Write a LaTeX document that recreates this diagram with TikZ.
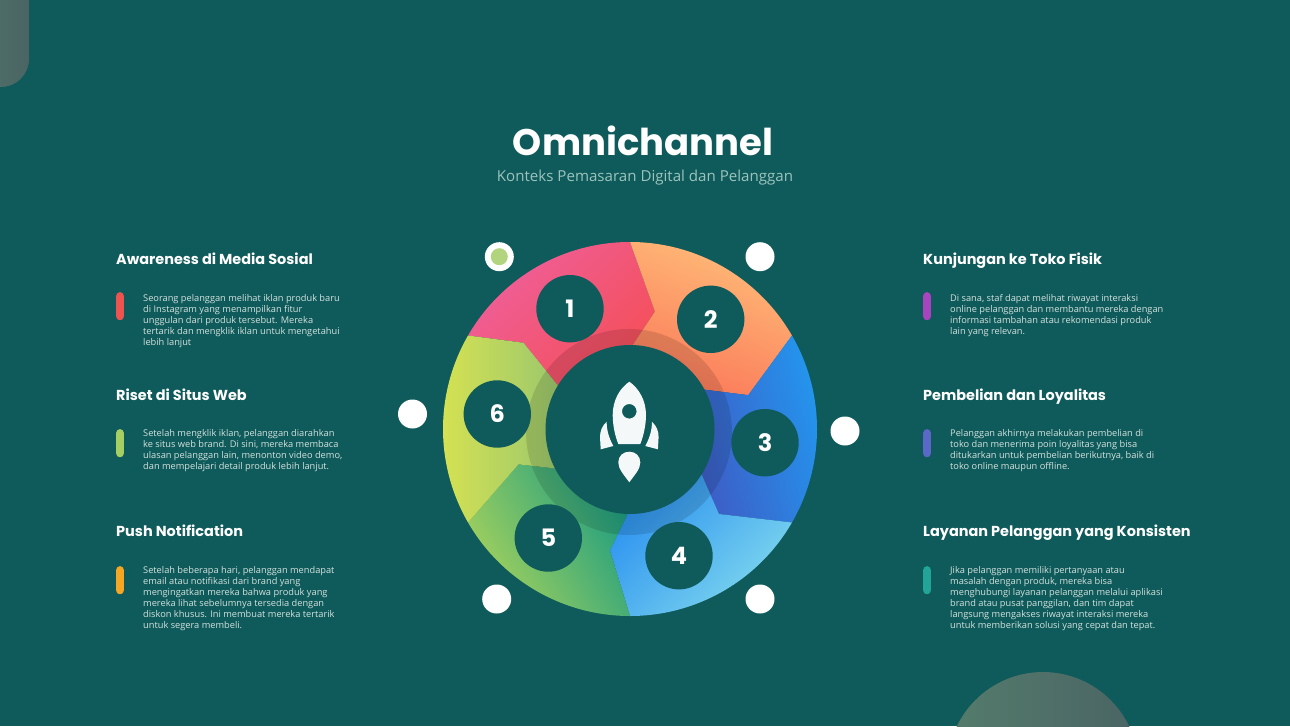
\documentclass[tikz,border=0pt]{standalone}
\usepackage{fontspec}
\usepackage{tikz}
\usetikzlibrary{positioning}
\setmainfont{Open Sans}
\newfontfamily\headfont{Poppins}
\newfontfamily\numfont{Poppins}
\definecolor{bgteal}{HTML}{0F5A5A}
\definecolor{bodygrey}{HTML}{D2E2DE}
\definecolor{subgrey}{HTML}{9CC4BE}
\definecolor{cornerleft}{HTML}{547C6C}
\definecolor{cornerright}{HTML}{4A6464}
\definecolor{segpink}{HTML}{EE5F9B}
\definecolor{segred}{HTML}{F54F58}
\definecolor{segpeach}{HTML}{FFBC78}
\definecolor{segcoral}{HTML}{FB7A5A}
\definecolor{segblue}{HTML}{2298F0}
\definecolor{segindigo}{HTML}{3D5EC6}
\definecolor{segsky}{HTML}{7FD8EE}
\definecolor{segazure}{HTML}{2A90F0}
\definecolor{segleaf}{HTML}{A6D25C}
\definecolor{segsea}{HTML}{1F9E80}
\definecolor{seglime}{HTML}{D8E350}
\definecolor{segmoss}{HTML}{9AC76E}
\definecolor{dotcore}{HTML}{B2D47E}
\definecolor{barred}{HTML}{EE5350}
\definecolor{bargreen}{HTML}{A5CF63}
\definecolor{barorange}{HTML}{F5A623}
\definecolor{barpurple}{HTML}{A845BE}
\definecolor{barindigo}{HTML}{5A68C8}
\definecolor{barteal}{HTML}{22A596}
\tikzset{head text/.style={anchor=base west,inner sep=0pt,text=white,font=\headfont\bfseries\fontsize{14.45}{18}\selectfont},
         body text/.style={anchor=north west,inner sep=0pt,align=left,text=bodygrey,execute at begin node=\strut,font=\fontsize{9.25}{11}\selectfont},
         side bar/.style={anchor=north west,rectangle,rounded corners=3.6pt,minimum width=7.6pt,minimum height=28pt,inner sep=0pt},
         num disc/.style={circle,fill=bgteal,minimum size=67.4pt,inner sep=0pt,text=white,font=\numfont\bfseries\fontsize{24}{24}\selectfont},
         white dot/.style={circle,fill=white,minimum size=29pt,inner sep=0pt},
         rocket part/.style={fill=white!96!bgteal},
}
\begin{document}
\begin{tikzpicture}[x=1pt,y=-1pt]
\useasboundingbox (0,0) rectangle (1290,726);
\fill[bgteal] (0,0) rectangle (1290,726);
\clip (0,0) rectangle (1290,726);

% corner shapes
\shade[left color=cornerleft,right color=cornerright,rounded corners=28pt] (-60,-60) rectangle (29,87);
\shade[left color=cornerleft,right color=cornerright] (1043,767.5) circle[radius=95.5pt];

% wheel
\begin{scope}[shift={(630,429)},y=1pt]
\coordinate (k1) at (78:120);
\coordinate (k2) at (16:123);
\coordinate (k3) at (-43.7:123);
\coordinate (k4) at (-99.4:123);
\coordinate (k5) at (197.6:117);
\coordinate (k6) at (141:137);
\shade[bottom color=segpink,top color=segred,shading angle=225] (150:187) arc[start angle=150,end angle=90,radius=187pt] -- (k1) -- (90:80) -- (150:80) -- (k6) -- cycle;
\shade[bottom color=segpeach,top color=segcoral,shading angle=160] (90:187) arc[start angle=90,end angle=30,radius=187pt] -- (k2) -- (30:80) -- (90:80) -- (k1) -- cycle;
\shade[bottom color=segblue,top color=segindigo,shading angle=105] (30:187) arc[start angle=30,end angle=-30,radius=187pt] -- (k3) -- (-30:80) -- (30:80) -- (k2) -- cycle;
\shade[bottom color=segsky,top color=segazure,shading angle=45] (-30:187) arc[start angle=-30,end angle=-90,radius=187pt] -- (k4) -- (-90:80) -- (-30:80) -- (k3) -- cycle;
\shade[bottom color=segleaf,top color=segsea,shading angle=-60] (-90:187) arc[start angle=-90,end angle=-150,radius=187pt] -- (k5) -- (-150:80) -- (-90:80) -- (k4) -- cycle;
\shade[bottom color=seglime,top color=segmoss,shading angle=270] (-150:187) arc[start angle=-150,end angle=-210,radius=187pt] -- (k6) -- (150:80) -- (-150:80) -- (k5) -- cycle;
\fill[black,opacity=.12] (-1,-3) circle[radius=103pt];
\node[circle,fill=bgteal,minimum size=169pt,inner sep=0pt] (hub) at (0,-0.5) {};
\end{scope}

% rocket
\path[rocket part,even odd rule] (629.3,381.7) .. controls (620,388) and (612.7,400) .. (612.7,415) .. controls (612.7,425) and (615,436) .. (618.3,444) -- (640.3,444) .. controls (643.5,436) and (646,425) .. (646,415) .. controls (646,400) and (638.5,388) .. (629.3,381.7) -- cycle (629.3,411.3) circle[radius=7.3pt];
\path[rocket part] (606.7,421.7) .. controls (602,426) and (600,431) .. (600,437) -- (600.7,449.3) -- (613.3,446) .. controls (609,438) and (606.5,430) .. (606.7,421.7) -- cycle;
\path[rocket part] (651.9,421.7) .. controls (656.6,426) and (658.6,431) .. (658.6,437) -- (657.9,449.3) -- (645.3,446) .. controls (649.6,438) and (652.1,430) .. (651.9,421.7) -- cycle;
\path[rocket part] (629.3,482.3) .. controls (624,475) and (618.3,469) .. (618.3,462.5) .. controls (618.3,456) and (623,451.7) .. (629.3,451.7) .. controls (635.6,451.7) and (640.3,456) .. (640.3,462.5) .. controls (640.3,469) and (634.6,475) .. (629.3,482.3) -- cycle;

\foreach \n/\px/\py in {1/570/308.7,2/710.7/319.3,3/765/442.7,4/679/555.7,5/548.3/538,6/497.3/414}
    \node[num disc] (disc\n) at (\px,\py) {\n};
\foreach \n/\px/\py in {1/499.3/256.7,2/760/256.7,3/845/431,4/760/599,5/496.7/599,6/412.5/414}
    \node[white dot] (dot\n) at (\px,\py) {};
\node[circle,fill=dotcore,minimum size=17pt,inner sep=0pt] (dotin) at (dot1) {};

% title
\node[anchor=base,inner sep=0pt,text=white,font=\headfont\bfseries\fontsize{37}{44}\selectfont] (title) at (643,155) {Omnichannel};
\node[anchor=base,inner sep=0pt,text=subgrey,font=\fontsize{15.1}{17}\selectfont] (subtitle) at (645,181) {Konteks Pemasaran Digital dan Pelanggan};

% left column
\node[head text] (head1) at (116,264) {Awareness di Media Sosial};
\node[side bar,fill=barred] (bar1) at (116,292) {};
\node[body text] (text1) at (143,293.8) {Seorang pelanggan melihat iklan produk baru\\di Instagram yang menampilkan fitur\\unggulan dari produk tersebut. Mereka\\tertarik dan mengklik iklan untuk mengetahui\\lebih lanjut};
\node[head text] (head6) at (116,400) {Riset di Situs Web};
\node[side bar,fill=bargreen] (bar6) at (116,429) {};
\node[body text] (text6) at (143,429.3) {Setelah mengklik iklan, pelanggan diarahkan\\ke situs web brand. Di sini, mereka membaca\\ulasan pelanggan lain, menonton video demo,\\dan mempelajari detail produk lebih lanjut.};
\node[head text] (head5) at (116,536) {Push Notification};
\node[side bar,fill=barorange] (bar5) at (116,566) {};
\node[body text] (text5) at (143,566.3) {Setelah beberapa hari, pelanggan mendapat\\email atau notifikasi dari brand yang\\mengingatkan mereka bahwa produk yang\\mereka lihat sebelumnya tersedia dengan\\diskon khusus. Ini membuat mereka tertarik\\untuk segera membeli.};

% right column
\node[head text] (head2) at (923,264) {Kunjungan ke Toko Fisik};
\node[side bar,fill=barpurple] (bar2) at (923,292) {};
\node[body text] (text2) at (950,293.8) {Di sana, staf dapat melihat riwayat interaksi\\online pelanggan dan membantu mereka dengan\\informasi tambahan atau rekomendasi produk\\lain yang relevan.};
\node[head text] (head3) at (923,400) {Pembelian dan Loyalitas};
\node[side bar,fill=barindigo] (bar3) at (923,429) {};
\node[body text] (text3) at (950,429.3) {Pelanggan akhirnya melakukan pembelian di\\toko dan menerima poin loyalitas yang bisa\\ditukarkan untuk pembelian berikutnya, baik di\\toko online maupun offline.};
\node[head text] (head4) at (923,536) {Layanan Pelanggan yang Konsisten};
\node[side bar,fill=barteal] (bar4) at (923,566) {};
\node[body text] (text4) at (950,566.3) {Jika pelanggan memiliki pertanyaan atau\\masalah dengan produk, mereka bisa\\menghubungi layanan pelanggan melalui aplikasi\\brand atau pusat panggilan, dan tim dapat\\langsung mengakses riwayat interaksi mereka\\untuk memberikan solusi yang cepat dan tepat.};
\end{tikzpicture}
\end{document}
